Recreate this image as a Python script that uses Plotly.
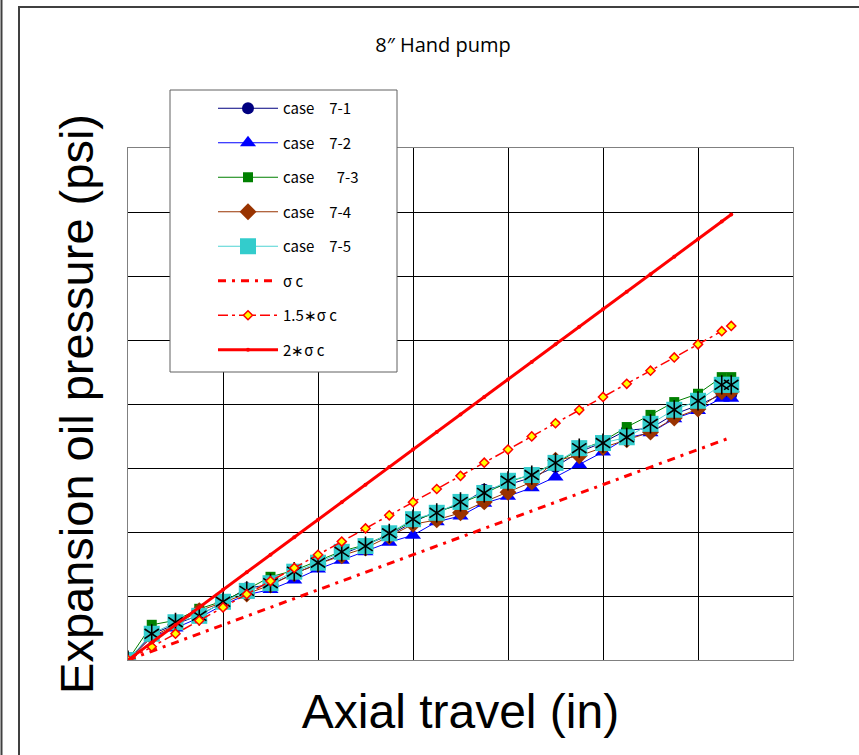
import plotly.graph_objects as go

# ---------------- data ----------------
x_in = [0, 0.025, 0.05, 0.075, 0.1, 0.125, 0.15, 0.175, 0.2, 0.225, 0.25, 0.275, 0.3,
        0.325, 0.35, 0.375, 0.4, 0.425, 0.45, 0.475, 0.5, 0.525, 0.55, 0.575, 0.6, 0.625, 0.635]

case71 = [0, 400, 560, 700, 900, 1120, 1180, 1350, 1500, 1650, 1800, 1950, 2150, 2330, 2420,
          2660, 2740, 2850, 3020, 3250, 3400, 3590, 3620, 3840, 3980, 4150, 4150]
case72 = [0, 360, 500, 660, 860, 1020, 1100, 1250, 1420, 1560, 1690, 1840, 1950, 2160, 2250,
          2450, 2560, 2690, 2860, 3050, 3250, 3470, 3550, 3770, 3900, 4090, 4090]
case73 = [0, 550, 620, 800, 920, 1100, 1300, 1400, 1550, 1700, 1800, 1970, 2180, 2300, 2450,
          2600, 2780, 2900, 3080, 3280, 3420, 3640, 3830, 4030, 4160, 4420, 4420]
case74 = [0, 360, 550, 770, 900, 1030, 1170, 1350, 1500, 1630, 1750, 1930, 2120, 2190, 2300,
          2470, 2620, 2780, 3120, 3190, 3320, 3440, 3560, 3780, 3920, 4190, 4190]
case75 = [0, 410, 590, 690, 910, 1080, 1200, 1380, 1520, 1690, 1780, 1980, 2200, 2300, 2470,
          2610, 2800, 2890, 3080, 3310, 3390, 3480, 3690, 3910, 4050, 4300, 4300]

sigma_c = [0, 137, 274, 411, 548, 685, 822, 959, 1096, 1233, 1370, 1507, 1644, 1781, 1918,
           2055, 2192, 2329, 2466, 2603, 2740, 2877, 3014, 3151, 3288, 3425, 3480]
sigma_c15 = [0, 206, 411, 617, 822, 1028, 1233, 1439, 1644, 1850, 2055, 2261, 2466, 2672, 2877,
             3083, 3288, 3494, 3699, 3905, 4110, 4316, 4521, 4727, 4932, 5138, 5220]
sigma_c2 = [0, 274, 548, 822, 1096, 1370, 1644, 1918, 2192, 2466, 2740, 3014, 3288, 3562, 3836,
            4110, 4384, 4658, 4932, 5206, 5480, 5754, 6028, 6302, 6576, 6850, 6960]

SP = "\u2002"  # half-width (en) space
names = ["case" + SP * 2 + "7-1", "case" + SP * 2 + "7-2", "case" + SP * 3 + "7-3",
         "case" + SP * 2 + "7-4", "case" + SP * 2 + "7-5",
         "σ c", "1.5∗σ c", "2∗σ c"]

x_range = [0, 0.7]
y_range = [0, 8000]

# ---------------- figure ----------------
fig = go.Figure()

fig.add_trace(go.Scatter(x=x_in, y=case71, name=names[0], mode="lines+markers",
                         legendgroup="g1",
                         line=dict(color="#000080", width=1),
                         marker=dict(symbol="circle", size=12, color="#000080")))
fig.add_trace(go.Scatter(x=x_in, y=case72, name=names[1], mode="lines+markers",
                         legendgroup="g2",
                         line=dict(color="#0000FF", width=1),
                         marker=dict(symbol="triangle-up", size=14, color="#0000FF")))
fig.add_trace(go.Scatter(x=x_in, y=case73, name=names[2], mode="lines+markers",
                         legendgroup="g3",
                         line=dict(color="#008000", width=1),
                         marker=dict(symbol="square", size=10, color="#008000")))
fig.add_trace(go.Scatter(x=x_in, y=case74, name=names[3], mode="lines+markers",
                         legendgroup="g4",
                         line=dict(color="#993300", width=1),
                         marker=dict(symbol="diamond", size=13, color="#993300")))
fig.add_trace(go.Scatter(x=x_in, y=case75, name=names[4], mode="lines+markers",
                         legendgroup="g5",
                         line=dict(color="#4FD3D3", width=1),
                         marker=dict(symbol="square", size=16, color="#33CCCC")))
for sym in ["y-up-open", "y-down-open"]:
    fig.add_trace(go.Scatter(x=x_in, y=case75, name=names[4], mode="markers",
                             legendgroup="g5", showlegend=False, hoverinfo="skip",
                             marker=dict(symbol=sym, size=12, color="black",
                                         line=dict(color="black", width=1.6))))
fig.add_trace(go.Scatter(x=x_in, y=sigma_c, name=names[5], mode="lines",
                         legendgroup="g6",
                         line=dict(color="#FF0000", width=3, dash="8px,6px,3px,6px")))
fig.add_trace(go.Scatter(x=x_in, y=sigma_c15, name=names[6], mode="lines+markers",
                         legendgroup="g7",
                         line=dict(color="#FF0000", width=1.5, dash="10px,4px,3px,4px"),
                         marker=dict(symbol="diamond", size=7, color="#FFFF00",
                                     line=dict(color="#FF0000", width=1.5))))
fig.add_trace(go.Scatter(x=x_in, y=sigma_c2, name=names[7], mode="lines+markers",
                         legendgroup="g8",
                         line=dict(color="#FF0000", width=3),
                         marker=dict(symbol="circle", size=4, color="#FF0000")))

# paper-coordinate helpers for frame decorations (plot area 128..793 x 148..660 px)
L, R, T, B = 128, 793, 148, 660


def px(xp):
    return (xp - L) / (R - L)


def py(yp):
    return (B - yp) / (B - T)


shapes = [
    # legend box (covers grid lines)
    dict(type="rect", xref="paper", yref="paper", x0=px(170), x1=px(397), y0=py(372), y1=py(90),
         line=dict(color="#606060", width=1), fillcolor="white", layer="above"),
    # outer chart frame
    dict(type="rect", xref="paper", yref="paper", x0=px(19), x1=px(900), y0=py(800), y1=py(7),
         line=dict(color="#404040", width=2), fillcolor="rgba(0,0,0,0)", layer="below"),
    dict(type="line", xref="paper", yref="paper", x0=px(1.5), x1=px(1.5), y0=py(800), y1=py(-40),
         line=dict(color="#404040", width=2), layer="below"),
]

fig.update_layout(
    width=859, height=755,
    margin=dict(l=L, r=859 - R, t=T, b=755 - B, pad=0),
    paper_bgcolor="white", plot_bgcolor="white",
    title=dict(text="8″ Hand pump", x=443 / 859, xanchor="center", y=1 - 45 / 755,
               yanchor="middle", font=dict(family="Open Sans", size=20, color="black")),
    xaxis=dict(range=x_range, dtick=0.1, showticklabels=False, ticks="",
               showgrid=True, gridcolor="#000000", gridwidth=1, zeroline=False,
               showline=True, mirror=True, linecolor="#808080", linewidth=1,
               title=dict(text="Axial travel (in)", standoff=34,
                          font=dict(family="Liberation Sans", size=48, color="black"))),
    yaxis=dict(range=y_range, dtick=1000, showticklabels=False, ticks="",
               showgrid=True, gridcolor="#000000", gridwidth=1, zeroline=False,
               showline=True, mirror=True, linecolor="#808080", linewidth=1,
               title=dict(text="Expansion oil pressure (psi)", standoff=18,
                          font=dict(family="Liberation Sans", size=47, color="black"))),
    legend=dict(x=px(213), y=py(92), xanchor="left", yanchor="top",
                bgcolor="rgba(0,0,0,0)", borderwidth=0, itemwidth=60,
                tracegroupgap=12, traceorder="grouped",
                font=dict(family="Noto Sans CJK JP", size=15, color="black")),
    shapes=shapes,
    showlegend=True,
)

fig.write_html("out.html")
